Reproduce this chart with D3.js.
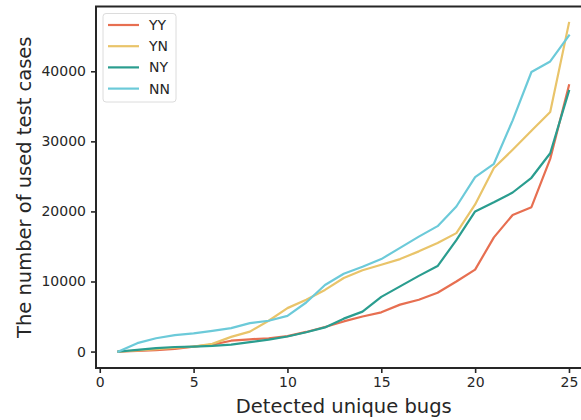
<!DOCTYPE html>
<html>
<head>
<meta charset="utf-8">
<script src="https://cdn.jsdelivr.net/npm/d3@7"></script>
<style>
  html, body { margin: 0; padding: 0; background: #fff; }
  svg { display: block; font-family: "DejaVu Sans", sans-serif; }
</style>
</head>
<body>
<svg id="chart" width="581" height="420"></svg>
<script>
// Number of detected unique bugs (x) vs. test cases used to reach it (y)
const bugs = d3.range(1, 26);
const seriesNames = ["YY", "YN", "NY", "NN"];
const seriesColors = ["#e76f51", "#e9c46a", "#2a9d8f", "#6ccad9"];
const valuesYY = [0, 100, 200, 380, 700, 1000, 1550, 1750, 1900, 2200, 2800, 3500, 4300, 5000, 5600, 6700, 7400, 8400, 10000, 11700, 16300, 19500, 20600, 27500, 38000];
const valuesYN = [0, 150, 350, 550, 700, 1100, 2100, 2850, 4400, 6200, 7400, 8800, 10500, 11600, 12400, 13200, 14300, 15500, 16900, 21000, 26200, 28800, 31500, 34200, 46900];
const valuesNY = [0, 250, 500, 650, 700, 800, 1000, 1350, 1700, 2150, 2750, 3450, 4700, 5700, 7800, 9300, 10800, 12200, 15900, 20000, 21300, 22700, 24800, 28300, 37200];
const valuesNN = [0, 1200, 1900, 2350, 2600, 2950, 3350, 4050, 4400, 5100, 7000, 9500, 11100, 12100, 13200, 14800, 16400, 17900, 20700, 24900, 26800, 33000, 39900, 41400, 45100];
const xTicks = [0, 5, 10, 15, 20, 25];
const yTicks = [0, 10000, 20000, 30000, 40000];

const series = [valuesYY, valuesYN, valuesNY, valuesNN].map((vals, i) => ({
  name: seriesNames[i],
  color: seriesColors[i],
  points: vals.map((v, j) => ({ x: bugs[j], y: v }))
}));

const svg = d3.select("#chart");
const margin = { left: 96, top: 6.5, right: 591.5, bottom: 368 };
const ink = "#262626";

// 5% padding around the data extent on both axes
const xExt = d3.extent(bugs);
const xPad = (xExt[1] - xExt[0]) * 0.05;
const allY = series.flatMap(s => s.points.map(p => p.y));
const yExt = d3.extent(allY);
const yPad = (yExt[1] - yExt[0]) * 0.05;

const x = d3.scaleLinear().domain([xExt[0] - xPad, xExt[1] + xPad]).range([margin.left, margin.right]);
const y = d3.scaleLinear().domain([yExt[0] - yPad, yExt[1] + yPad]).range([margin.bottom, margin.top]);

const clipId = "plot-clip";
svg.append("defs").append("clipPath").attr("id", clipId)
  .append("rect")
  .attr("x", margin.left).attr("y", margin.top)
  .attr("width", margin.right - margin.left).attr("height", margin.bottom - margin.top);

// Lines
const line = d3.line().x(d => x(d.x)).y(d => y(d.y));
const plot = svg.append("g").attr("clip-path", `url(#${clipId})`);
plot.selectAll("path.series")
  .data(series)
  .join("path")
  .attr("class", "series")
  .attr("fill", "none")
  .attr("stroke", d => d.color)
  .attr("stroke-width", 2.2)
  .attr("stroke-linejoin", "round")
  .attr("stroke-linecap", "square")
  .attr("d", d => line(d.points));

// Axes
const xAxis = svg.append("g")
  .attr("transform", `translate(0,${margin.bottom})`)
  .call(d3.axisBottom(x).tickValues(xTicks).tickFormat(d3.format("d")).tickSize(5).tickPadding(4).tickSizeOuter(0));
const yAxis = svg.append("g")
  .attr("transform", `translate(${margin.left},0)`)
  .call(d3.axisLeft(y).tickValues(yTicks).tickFormat(d3.format("d")).tickSize(5).tickPadding(5).tickSizeOuter(0));

[xAxis, yAxis].forEach(g => {
  g.select(".domain").remove();
  g.selectAll(".tick line").attr("stroke", ink).attr("stroke-width", 1.6);
  g.selectAll(".tick text").attr("fill", ink).attr("font-size", 14)
    .attr("font-family", "DejaVu Sans, sans-serif");
});

// Frame around the plotting area
svg.append("rect")
  .attr("x", margin.left).attr("y", margin.top)
  .attr("width", margin.right - margin.left).attr("height", margin.bottom - margin.top)
  .attr("fill", "none").attr("stroke", ink).attr("stroke-width", 2);

// Axis titles
svg.append("text")
  .attr("x", (margin.left + margin.right) / 2).attr("y", 413)
  .attr("text-anchor", "middle").attr("fill", ink).attr("font-size", 19.5)
  .text("Detected unique bugs");
svg.append("text")
  .attr("transform", `translate(31,${(margin.top + margin.bottom) / 2}) rotate(-90)`)
  .attr("text-anchor", "middle").attr("fill", ink).attr("font-size", 19.5)
  .text("The number of used test cases");

// Legend
const legend = svg.append("g");
legend.append("rect")
  .attr("x", 103).attr("y", 13.5).attr("width", 73).attr("height", 88.5)
  .attr("rx", 3).attr("fill", "#fff").attr("fill-opacity", 0.85)
  .attr("stroke", "#dcdcdc").attr("stroke-width", 1);
const items = legend.selectAll("g.item").data(series).join("g")
  .attr("class", "item")
  .attr("transform", (d, i) => `translate(0,${25 + i * 21.2})`);
items.append("line")
  .attr("x1", 108).attr("x2", 139).attr("y1", 0).attr("y2", 0)
  .attr("stroke", d => d.color).attr("stroke-width", 2.2);
items.append("text")
  .attr("x", 149).attr("y", 5).attr("fill", ink).attr("font-size", 14)
  .text(d => d.name);
</script>
</body>
</html>
